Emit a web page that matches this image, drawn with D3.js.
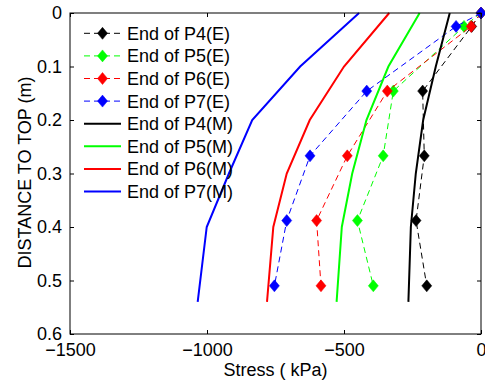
<!DOCTYPE html>
<html><head><meta charset="utf-8">
<script src="https://cdn.jsdelivr.net/npm/d3@7"></script>
<style>body{margin:0;background:#fff}svg{display:block}text{font-family:"Liberation Sans",Arial,sans-serif}</style>
</head><body>
<svg id="c" width="485" height="385"></svg>
<script>
// Experimental (E) series: depth (m) and stress (kPa)
const depthE = [0, 0.025, 0.146, 0.267, 0.388, 0.51];
const p4E = [0, -34, -213, -207, -237, -198];
const p5E = [0, -62, -320, -357, -451, -393];
const p6E = [0, -36, -342, -488, -600, -584];
const p7E = [0, -91, -417, -624, -709, -754];
// Model (M) series
const depthM = [0, 0.1, 0.2, 0.3, 0.4, 0.54];
const p4M = [-114, -165, -211, -238, -256, -265];
const p5M = [-224, -338, -418, -470, -508, -527];
const p6M = [-335, -500, -625, -709, -758, -781];
const p7M = [-445, -660, -835, -920, -1001, -1034];

const xTicks = [-1500, -1000, -500, 0];
const yTicks = [0, 0.1, 0.2, 0.3, 0.4, 0.5, 0.6];
const names = ["End of P4(E)","End of P5(E)","End of P6(E)","End of P7(E)",
               "End of P4(M)","End of P5(M)","End of P6(M)","End of P7(M)"];
const colors = ["#000000","#00ff00","#ff0000","#0000ff"];

const svg = d3.select("#c");
const L = 70, R = 481, T = 13, B = 334;
const x = d3.scaleLinear().domain([-1500, 0]).range([L, R]);
const y = d3.scaleLinear().domain([0, 0.6]).range([T, B]);
const FS = 18;

const eSeries = [p4E, p5E, p6E, p7E];
const mSeries = [p4M, p5M, p6M, p7M];

const line = d3.line().x(d => x(d[0])).y(d => y(d[1]));
const diamond = "M0,-6L5,0L0,6L-5,0Z";

// E series
eSeries.forEach((s, i) => {
  const pts = s.map((v, j) => [v, depthE[j]]);
  svg.append("path").attr("d", line(pts)).attr("fill", "none")
    .attr("stroke", colors[i]).attr("stroke-width", 1).attr("stroke-dasharray", "6,4");
  svg.selectAll(null).data(pts).enter().append("path")
    .attr("d", diamond).attr("transform", d => `translate(${x(d[0])},${y(d[1])})`)
    .attr("fill", colors[i]).attr("stroke", colors[i]).attr("stroke-width", 0.5);
});
// M series
mSeries.forEach((s, i) => {
  const pts = s.map((v, j) => [v, depthM[j]]);
  svg.append("path").attr("d", line(pts)).attr("fill", "none")
    .attr("stroke", colors[i]).attr("stroke-width", 2);
});

// Axes box
svg.append("rect").attr("x", L).attr("y", T).attr("width", R - L).attr("height", B - T)
  .attr("fill", "none").attr("stroke", "#000").attr("stroke-width", 1);

const axB = svg.append("g").attr("transform", `translate(0,${B})`)
  .call(d3.axisBottom(x).tickValues(xTicks).tickSizeInner(-4).tickSizeOuter(0).tickPadding(8)
    .tickFormat(d => d < 0 ? "\u2212" + Math.abs(d) : d));
const axT = svg.append("g").attr("transform", `translate(0,${T})`)
  .call(d3.axisTop(x).tickValues(xTicks).tickSizeInner(-4).tickSizeOuter(0).tickFormat(""));
const axL = svg.append("g").attr("transform", `translate(${L},0)`)
  .call(d3.axisLeft(y).tickValues(yTicks).tickSizeInner(-4).tickSizeOuter(0).tickPadding(8)
    .tickFormat(d => d === 0 ? "0" : d3.format(".1f")(d)));
const axR = svg.append("g").attr("transform", `translate(${R},0)`)
  .call(d3.axisRight(y).tickValues(yTicks).tickSizeInner(-4).tickSizeOuter(0).tickFormat(""));
[axB, axT, axL, axR].forEach(g => {
  g.select(".domain").remove();
  g.selectAll(".tick line").attr("stroke", "#000").attr("stroke-width", 1);
  g.selectAll("text").attr("font-size", FS).attr("fill", "#000")
    .attr("font-family", "Liberation Sans, Arial, sans-serif");
});
axB.selectAll("text").attr("dy", "0.71em").attr("y", 9);

svg.append("text").attr("x", (L + R) / 2).attr("y", 376).attr("text-anchor", "middle")
  .attr("font-size", FS).text("Stress ( kPa)");
svg.append("text").attr("transform", `translate(31,${(T + B) / 2 - 1}) rotate(-90)`)
  .attr("text-anchor", "middle").attr("font-size", FS).text("DISTANCE TO TOP (m)");

// Legend
const leg = svg.append("g");
names.forEach((n, i) => {
  const cy = 33.3 + i * 22.6;
  const c = colors[i % 4];
  const g = leg.append("g");
  if (i < 4) {
    g.append("line").attr("x1", 84).attr("x2", 121).attr("y1", cy).attr("y2", cy)
      .attr("stroke", c).attr("stroke-width", 1).attr("stroke-dasharray", "6,4");
    g.append("path").attr("d", diamond).attr("transform", `translate(102.5,${cy})`)
      .attr("fill", c).attr("stroke", c).attr("stroke-width", 0.5);
  } else {
    g.append("line").attr("x1", 84).attr("x2", 121).attr("y1", cy).attr("y2", cy)
      .attr("stroke", c).attr("stroke-width", 2);
  }
  g.append("text").attr("x", 127).attr("y", cy).attr("dy", "0.36em")
    .attr("font-size", FS).attr("fill", "#000").text(n);
});
</script>
</body></html>
